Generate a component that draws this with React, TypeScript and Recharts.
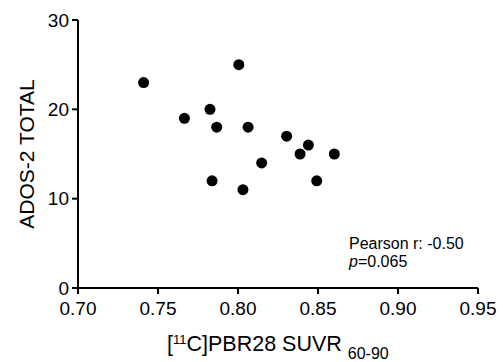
import { ScatterChart, Scatter, XAxis, YAxis, Customized } from "recharts";

// SUVR 60-90 values (x) and ADOS-2 total scores (y)
const suvr = [0.741, 0.8005, 0.7825, 0.7665, 0.7867, 0.8063, 0.8304, 0.844, 0.8388, 0.8602, 0.8148, 0.7838, 0.8492, 0.8031];
const ados = [23, 25, 20, 19, 18, 18, 17, 16, 15, 15, 14, 12, 12, 11];
const xTicks = [0.7, 0.75, 0.8, 0.85, 0.9, 0.95];
const yTicks = [0, 10, 20, 30];

const points = suvr.map((x, i) => ({ x, y: ados[i] }));

const FONT = "'Liberation Sans', Arial, sans-serif";

const Dot = (props: any) => <circle cx={props.cx} cy={props.cy} r={5.5} fill="#000" />;

const Notes = () => (
  <g fontFamily={FONT} fill="#000">
    {/* x axis title with superscript / subscript */}
    <text x={167} y={351} fontSize={21.5}>
      [<tspan fontSize={13} dy={-7}>11</tspan>
      <tspan dy={7}>C]PBR28 SUVR </tspan>
      <tspan fontSize={16} dy={8}>60-90</tspan>
    </text>
    <text x={26} y={154} fontSize={21} textAnchor="middle" transform="rotate(-90 26 154)" dominantBaseline="central">
      ADOS-2 TOTAL
    </text>
    <text x={349} y={249} fontSize={16}>Pearson r: -0.50</text>
    <text x={349} y={267} fontSize={16}>
      <tspan fontStyle="italic">p</tspan>=0.065
    </text>
  </g>
);

export default function App() {
  return (
    <div style={{ position: "absolute", left: 0, top: 0, background: "#fff" }}>
      <ScatterChart width={503} height={362} margin={{ top: 20, right: 25, left: 0, bottom: 0 }}>
        <XAxis
          type="number"
          dataKey="x"
          domain={[0.7, 0.95]}
          ticks={xTicks}
          tickFormatter={(v: number) => v.toFixed(2)}
          height={74}
          stroke="#000"
          strokeWidth={2}
          tickSize={6}
          tickMargin={8}
          tick={{ fill: "#000", fontSize: 19, fontFamily: FONT }}
          allowDataOverflow
        />
        <YAxis
          type="number"
          dataKey="y"
          domain={[0, 30]}
          ticks={yTicks}
          width={78}
          stroke="#000"
          strokeWidth={2}
          tickSize={6}
          tickMargin={3}
          tick={{ fill: "#000", fontSize: 19, fontFamily: FONT }}
        />
        <Scatter data={points} shape={Dot} isAnimationActive={false} />
        <Customized component={Notes} />
      </ScatterChart>
    </div>
  );
}
